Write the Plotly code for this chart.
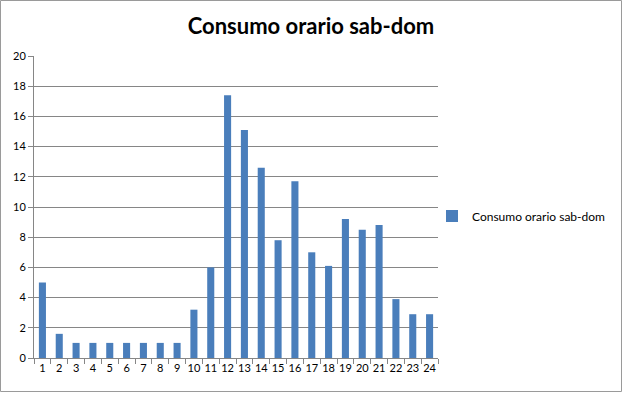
import plotly.graph_objects as go

hours = [str(i) for i in range(1, 25)]
consumo = [5.0, 1.6, 1.0, 1.0, 1.0, 1.0, 1.0, 1.0, 1.0, 3.2, 6.0, 17.4,
           15.1, 12.6, 7.8, 11.7, 7.0, 6.1, 9.2, 8.5, 8.8, 3.9, 2.9, 2.9]
series_name = "Consumo orario sab-dom"
title_text = "Consumo orario sab-dom"
y_ticks = list(range(0, 21, 2))

W, H = 623, 393
L, R, T, B = 34, 185, 56, 35
pw, ph = W - L - R, H - T - B

fig = go.Figure()
fig.add_trace(go.Bar(x=hours, y=consumo, name=series_name,
                     marker=dict(color="#4A7EBB", line=dict(width=0)),
                     showlegend=True))

fig.update_layout(
    width=W, height=H,
    margin=dict(l=L, r=R, t=T, b=B, autoexpand=False),
    paper_bgcolor="white", plot_bgcolor="white",
    bargap=0.58,
    font=dict(family="Lato, Open Sans, sans-serif", size=11, color="black"),
    title=dict(text="<b>" + title_text + "</b>", x=311 / W, xanchor="center",
               y=1 - 26 / H, yanchor="middle",
               font=dict(size=22, family="Lato, Open Sans, sans-serif", color="black")),
    legend=dict(x=(432 - L) / pw, y=(H - B - 216) / ph, xanchor="left", yanchor="middle",
                itemwidth=30, font=dict(size=12), bgcolor="rgba(0,0,0,0)"),
    xaxis=dict(type="category", showline=True, linecolor="#868686", linewidth=1,
               ticks="outside", tickson="boundaries", ticklen=5, tickcolor="#868686",
               showgrid=False, tickangle=0, automargin=False, tickfont=dict(size=11)),
    yaxis=dict(range=[0, 20], tickvals=y_ticks, showline=True, linecolor="#868686",
               linewidth=1, ticks="outside", ticklen=5, tickcolor="#868686",
               showgrid=True, gridcolor="#868686", gridwidth=1, zeroline=False,
               automargin=False, tickfont=dict(size=11)),
    shapes=[dict(type="rect", xref="paper", yref="paper",
                 x0=(-L + 0.5) / pw, x1=(pw + R - 1.5) / pw,
                 y0=(-B + 1.5) / ph, y1=(ph + T - 0.5) / ph,
                 line=dict(color="#9A9A9A", width=1), fillcolor="rgba(0,0,0,0)",
                 layer="below")],
)

fig.write_html("out.html", config={"displayModeBar": False},
               post_script="document.body.style.margin='0';document.body.style.overflow='hidden';")
